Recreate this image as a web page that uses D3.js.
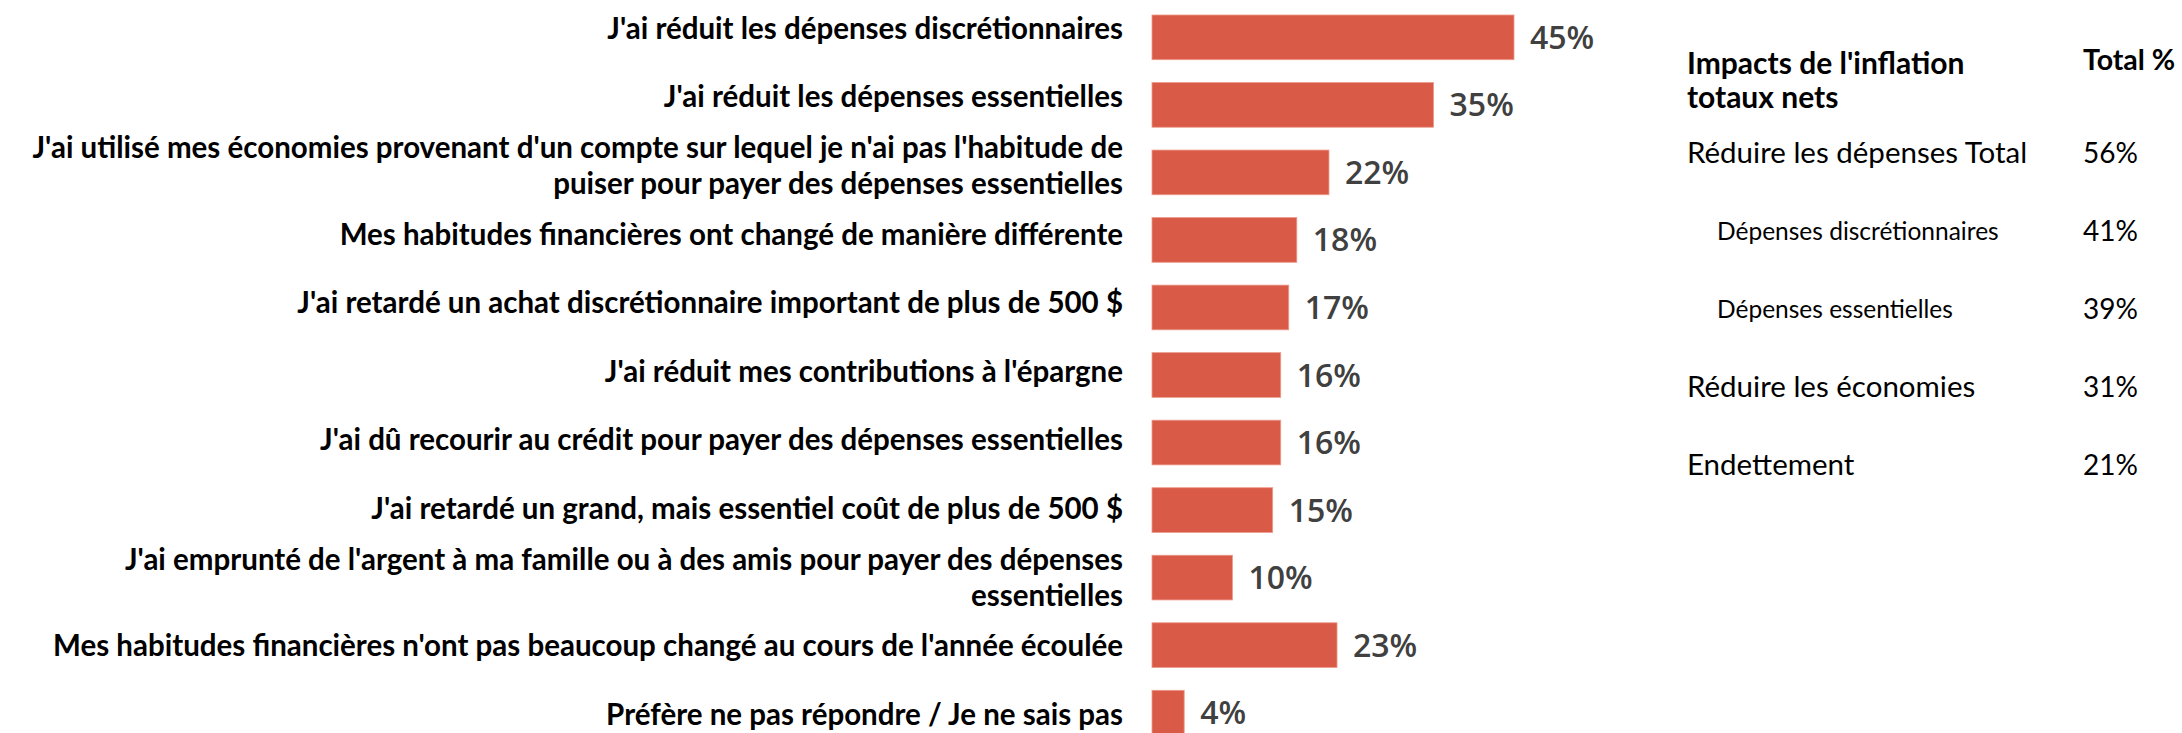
<!DOCTYPE html>
<html>
<head>
<meta charset="utf-8">
<script src="https://cdn.jsdelivr.net/npm/d3@7"></script>
<style>
	body { margin: 0; background: #fff; }
	svg { display: block; }
</style>
</head>
<body>
<svg id="chart" width="2182" height="733"></svg>
<script>
// chart data
var categories = [
	"J'ai réduit les dépenses discrétionnaires",
	"J'ai réduit les dépenses essentielles",
	"J'ai utilisé mes économies provenant d'un compte sur lequel je n'ai pas l'habitude de|puiser pour payer des dépenses essentielles",
	"Mes habitudes financières ont changé de manière différente",
	"J'ai retardé un achat discrétionnaire important de plus de 500 $",
	"J'ai réduit mes contributions à l'épargne",
	"J'ai dû recourir au crédit pour payer des dépenses essentielles",
	"J'ai retardé un grand, mais essentiel coût de plus de 500 $",
	"J'ai emprunté de l'argent à ma famille ou à des amis pour payer des dépenses|essentielles",
	"Mes habitudes financières n'ont pas beaucoup changé au cours de l'année écoulée",
	"Préfère ne pas répondre / Je ne sais pas"
]
var values = [45, 35, 22, 18, 17, 16, 16, 15, 10, 23, 4]

var tableHeader = ["Impacts de l'inflation", "totaux nets"]
var tableValueHeader = "Total %"
var tableRows = [
	"Réduire les dépenses Total",
	"Dépenses discrétionnaires",
	"Dépenses essentielles",
	"Réduire les économies",
	"Endettement"
]
var tableLevels = [0, 1, 1, 0, 0]
var tableValues = [56, 41, 39, 31, 21]

var svg = d3.select("#chart")

var x = d3.scaleLinear()
	.domain([0, 45])
	.range([1152, 1514])

var y = d3.scaleBand()
	.domain(categories)
	.range([15, 735])
	.paddingInner(0.338)

// labels sit on a slightly different grid than the bars
var yLabel = d3.scalePoint()
	.domain(categories)
	.range([28, 714])

svg.append("g")
	.selectAll("rect")
	.data(values)
	.enter()
	.append("rect")
	.attr("x", x(0))
	.attr("y", function(d, i) { return y(categories[i]) })
	.attr("width", function(d) { return x(d) - x(0) })
	.attr("height", y.bandwidth())
	.attr("fill", "#d95a46")
	.attr("stroke", "#ec9a8c")
	.attr("stroke-width", 0.8)

svg.append("g")
	.selectAll("text")
	.data(values)
	.enter()
	.append("text")
	.attr("x", function(d) { return x(d) + 16 })
	.attr("y", function(d, i) { return y(categories[i]) + y.bandwidth() / 2 })
	.attr("dy", "0.36em")
	.attr("font-family", "'Open Sans', sans-serif")
	.attr("font-weight", 600)
	.attr("font-size", 32)
	.attr("fill", "#404040")
	.text(function(d) { return d + "%" })

var axis = svg.append("g")
	.attr("transform", "translate(1123,0)")
	.call(d3.axisLeft(yLabel).tickSize(0).tickPadding(0))

axis.select(".domain").remove()
axis.selectAll("text")
	.attr("font-family", "Lato, sans-serif")
	.attr("font-weight", 700)
	.attr("font-size", 29.5)
	.attr("fill", "#000")
	.attr("dy", null)
	.each(function(d) {
		var lines = d.split("|"),
			t = d3.select(this).text(null)
		lines.forEach(function(l, j) {
			t.append("tspan")
				.attr("x", 0)
				.attr("y", (j - (lines.length - 1) / 2) * 36)
				.attr("dy", "0.35em")
				.text(l)
		})
	})

// side table
var table = svg.append("g")
	.attr("font-family", "Lato, sans-serif")
	.attr("fill", "#000")

table.selectAll(".head")
	.data(tableHeader)
	.enter()
	.append("text")
	.attr("class", "head")
	.attr("x", 1687)
	.attr("y", function(d, i) { return 63 + i * 34 })
	.attr("dy", "0.35em")
	.attr("font-weight", 700)
	.attr("font-size", 30)
	.text(function(d) { return d })

table.append("text")
	.attr("x", 2083)
	.attr("y", 60)
	.attr("dy", "0.35em")
	.attr("font-weight", 700)
	.attr("font-size", 28.5)
	.text(tableValueHeader)

var rowY = d3.scalePoint()
	.domain(tableRows)
	.range([153, 465])

table.selectAll(".row")
	.data(tableRows)
	.enter()
	.append("text")
	.attr("class", "row")
	.attr("x", function(d, i) { return tableLevels[i] ? 1717 : 1687 })
	.attr("y", function(d) { return rowY(d) })
	.attr("dy", "0.35em")
	.attr("font-size", function(d, i) { return tableLevels[i] ? 24.5 : 29.5 })
	.text(function(d) { return d })

table.selectAll(".val")
	.data(tableValues)
	.enter()
	.append("text")
	.attr("class", "val")
	.attr("x", 2083)
	.attr("y", function(d, i) { return rowY(tableRows[i]) })
	.attr("dy", "0.35em")
	.attr("font-size", 28)
	.text(function(d) { return d + "%" })
</script>
</body>
</html>
